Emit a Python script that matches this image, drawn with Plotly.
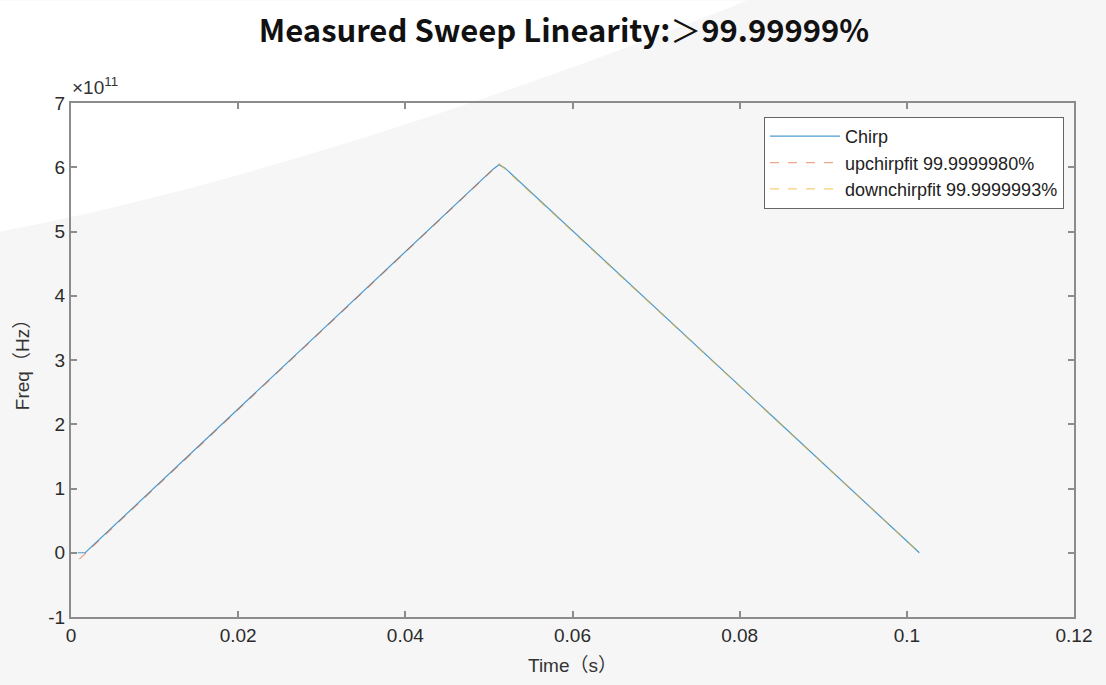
import plotly.graph_objects as go

# Data (time in s, frequency in Hz)
chirp_t = [0.0008, 0.0017, 0.0505, 0.0512, 0.0519, 0.1015]
chirp_f = [0.0, 0.0, 5.97e11, 6.04e11, 5.99e11, 0.0]
up_t = [0.0010, 0.0512]
up_f = [-0.10e11, 6.05e11]
down_t = [0.0512, 0.1015]
down_f = [6.06e11, 0.0]

x_ticks = [0, 0.02, 0.04, 0.06, 0.08, 0.1, 0.12]
x_ticklabels = ["0", "0.02", "0.04", "0.06", "0.08", "0.1", "0.12"]
y_ticks = [-1e11, 0, 1e11, 2e11, 3e11, 4e11, 5e11, 6e11, 7e11]
y_ticklabels = ["-1", "0", "1", "2", "3", "4", "5", "6", "7"]

W, H = 1106, 685
L, R, T, B = 71, 1074, 103, 619

def px(x):
    return (x - L) / (R - L)

def py(y):
    return (B - y) / (B - T)

fig = go.Figure()
fig.add_trace(go.Scatter(x=chirp_t, y=chirp_f, mode="lines", name="Chirp",
                         line=dict(color="rgba(0,114,189,0.7)", width=1.2)))
fig.add_trace(go.Scatter(x=up_t, y=up_f, mode="lines", name="upchirpfit 99.9999980%",
                         line=dict(color="rgba(217,83,25,0.5)", width=1.2, dash="dash")))
fig.add_trace(go.Scatter(x=down_t, y=down_f, mode="lines", name="downchirpfit 99.9999993%",
                         line=dict(color="rgba(237,177,32,0.6)", width=1.2, dash="dash")))

# white swoosh background in upper-left (pixel outline -> paper coords)
def pt(a, b):
    return "{:.5f},{:.5f}".format(px(a), py(b))

path = "M {} C {} {} {} L {} Z".format(pt(0, 232), pt(250, 185), pt(550, 80), pt(747, 0), pt(0, 0))
fig.add_shape(type="path", path=path, xref="paper", yref="paper",
              fillcolor="#ffffff", line=dict(width=0), layer="below")

axis_common = dict(showgrid=False, zeroline=False, showline=True, linecolor="#8c8c8c",
                   linewidth=2, mirror="ticks", ticks="inside", ticklen=6,
                   tickcolor="#8c8c8c", tickwidth=1.5,
                   tickfont=dict(family="Liberation Sans, Arial", size=19, color="#2b2b2b"))

fig.update_xaxes(range=[0, 0.12], tickvals=x_ticks, ticktext=x_ticklabels,
                 title=dict(text="Time（s）", font=dict(family="Liberation Sans, Noto Sans CJK SC", size=19, color="#333333"), standoff=14),
                 **axis_common)
fig.update_yaxes(range=[-1e11, 7e11], tickvals=y_ticks, ticktext=y_ticklabels,
                 title=dict(text="Freq（Hz）", font=dict(family="Liberation Sans, Noto Sans CJK SC", size=19, color="#333333"), standoff=14),
                 **axis_common)

fig.add_annotation(text="×10<sup>11</sup>", xref="paper", yref="paper", x=px(70), y=py(100),
                   xanchor="left", yanchor="bottom", showarrow=False,
                   font=dict(family="Liberation Sans, Arial", size=19, color="#333333"))

fig.update_layout(
    width=W, height=H,
    margin=dict(l=L, r=W - R, t=T, b=H - B),
    paper_bgcolor="#f6f6f6",
    plot_bgcolor="rgba(0,0,0,0)",
    title=dict(text="<b>Measured Sweep Linearity:</b>＞<b>99.99999%</b>", x=564 / W, xanchor="center",
               y=1 - 31 / H, yanchor="middle",
               font=dict(family="Noto Sans CJK SC, Noto Sans", size=31, color="#111111")),
    legend=dict(x=px(1064), y=py(117), xanchor="right", yanchor="top",
                bgcolor="#ffffff", bordercolor="#666666", borderwidth=1,
                font=dict(family="Liberation Sans, Arial", size=18, color="#222222"),
                itemwidth=70, tracegroupgap=0),
    showlegend=True,
)

fig.write_html("out.html", config={"displayModeBar": False},
               post_script="document.body.style.margin='0';document.body.style.background='#f6f6f6';")
